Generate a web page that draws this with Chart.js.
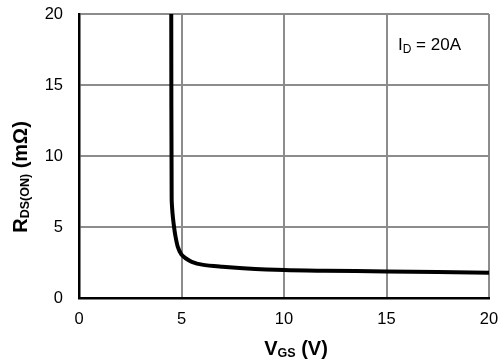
<!DOCTYPE html>
<html>
<head>
<meta charset="utf-8">
<script src="https://cdn.jsdelivr.net/npm/chart.js@4"></script>
<style>
  html, body { margin: 0; padding: 0; background: #fff; }
  #wrap { width: 500px; height: 364px; }
</style>
</head>
<body>
<div id="wrap"><canvas id="chart" width="500" height="364"></canvas></div>
<script>
// Rds(on) vs Vgs
const vgs = [4.5, 4.52, 4.56, 4.62, 4.7, 4.82, 5.0, 5.2, 5.5, 6.0, 7.0, 8.0, 10, 12, 15, 20];
const rdsOn = [20, 7.0, 6.0, 5.2, 4.4, 3.6, 3.05, 2.8, 2.55, 2.35, 2.2, 2.1, 1.97, 1.92, 1.87, 1.78];
const xTicks = [0, 5, 10, 15, 20];
const yTicks = [0, 5, 10, 15, 20];

const FONT = "'Liberation Sans', Arial, sans-serif";

// draws text with a subscript part, returns end x
function drawSub(ctx, x, y, parts) {
  parts.forEach((p) => {
    ctx.font = p.font;
    ctx.fillText(p.text, x, y + (p.dy || 0));
    x += ctx.measureText(p.text).width;
  });
  return x;
}

function partsWidth(ctx, parts) {
  let w = 0;
  parts.forEach((p) => {
    ctx.font = p.font;
    w += ctx.measureText(p.text).width;
  });
  return w;
}

const labelsPlugin = {
  id: "labels",
  afterDraw(chart) {
    const ctx = chart.ctx;
    ctx.save();
    ctx.fillStyle = "#000";
    ctx.textBaseline = "alphabetic";

    // x axis title
    const xParts = [
      { text: "V", font: "bold 20px " + FONT },
      { text: "GS", font: "bold 12.5px " + FONT, dy: 2 },
      { text: " (V)", font: "bold 20px " + FONT },
    ];
    let w = partsWidth(ctx, xParts);
    drawSub(ctx, 296 - w / 2, 355, xParts);

    // y axis title, rotated
    const yParts = [
      { text: "R", font: "bold 20px " + FONT },
      { text: "DS(ON)", font: "bold 12.5px " + FONT, dy: 2 },
      { text: " (mΩ)", font: "bold 20px " + FONT },
    ];
    w = partsWidth(ctx, yParts);
    ctx.save();
    ctx.translate(27, 177);
    ctx.rotate(-Math.PI / 2);
    drawSub(ctx, -w / 2, 0, yParts);
    ctx.restore();

    // condition note
    drawSub(ctx, 398, 50, [
      { text: "I", font: "17px " + FONT },
      { text: "D", font: "12px " + FONT, dy: 3 },
      { text: " = 20A", font: "17px " + FONT },
    ]);
    ctx.restore();
  },
};

new Chart(document.getElementById("chart"), {
  type: "scatter",
  data: {
    datasets: [
      {
        data: vgs.map((v, i) => ({ x: v, y: rdsOn[i] })),
        showLine: true,
        borderColor: "#000",
        borderWidth: 4,
        pointRadius: 0,
        tension: 0.3,
      },
    ],
  },
  options: {
    responsive: false,
    animation: false,
    layout: { padding: { top: 14, right: 11, left: 0, bottom: 0 } },
    plugins: { legend: { display: false }, tooltip: { enabled: false } },
    scales: {
      x: {
        type: "linear",
        min: 0,
        max: 20,
        afterBuildTicks: (s) => { s.ticks = xTicks.map((v) => ({ value: v })); },
        afterFit: (s) => {
          s.height = 66;
          s.paddingLeft = 0;
          s.paddingRight = 0;
        },
        ticks: { color: "#000", font: { family: FONT, size: 16.5 }, padding: 12 },
        grid: { color: "#8c8c8c", lineWidth: 2, drawTicks: false },
        border: { color: "#000", width: 2.5 },
      },
      y: {
        min: 0,
        max: 20,
        afterBuildTicks: (s) => { s.ticks = yTicks.map((v) => ({ value: v })); },
        afterFit: (s) => {
          s.width = 79;
          s.paddingTop = 0;
          s.paddingBottom = 0;
        },
        ticks: { color: "#000", font: { family: FONT, size: 16.5 }, padding: 16 },
        grid: { color: "#8c8c8c", lineWidth: 2, drawTicks: false },
        border: { color: "#000", width: 2.5 },
      },
    },
  },
  plugins: [labelsPlugin],
});
</script>
</body>
</html>
